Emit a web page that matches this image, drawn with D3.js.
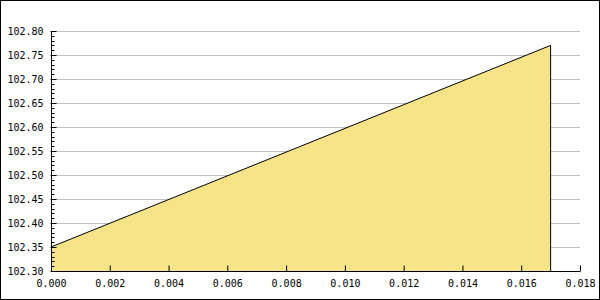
<!DOCTYPE html>
<html>
<head>
<meta charset="utf-8">
<script src="https://cdn.jsdelivr.net/npm/d3@7"></script>
<style>
  body { margin: 0; background: #fff; }
  svg text { font-family: "DejaVu Sans Mono", monospace; font-size: 10px; fill: #000; }
</style>
</head>
<body>
<div id="chart"></div>
<script>
// values
var xVals = [0.000, 0.017]
var yVals = [102.35, 102.77]

var xTicks = [0, 0.002, 0.004, 0.006, 0.008, 0.010, 0.012, 0.014, 0.016, 0.018]
var yTicks = [102.30, 102.35, 102.40, 102.45, 102.50, 102.55, 102.60, 102.65, 102.70, 102.75, 102.80]
var yMinor = d3.range(102.30, 102.805, 0.01)

var data = xVals.map(function(x, i) { return {x: x, y: yVals[i]}; })

var W = 600, H = 300
var margin = {top: 31, right: 20, bottom: 29, left: 51},
  width = W - margin.left - margin.right,
  height = H - margin.top - margin.bottom;

var svg = d3.select("#chart").append("svg")
  .attr("width", W).attr("height", H)

// outer frame
svg.append("rect")
  .attr("x", 0.5).attr("y", 0.5)
  .attr("width", W - 1).attr("height", H - 1)
  .attr("fill", "#fff").attr("stroke", "#000")

var g = svg.append("g")
  .attr("transform", "translate(" + margin.left + "," + margin.top + ")")

var x = d3.scaleLinear().domain([0, 0.018]).range([0, width])
var y = d3.scaleLinear().domain([102.30, 102.80]).range([height, 0])

// gridlines
g.append("g").selectAll("line")
  .data(yTicks.slice(1))
  .enter().append("line")
  .attr("x1", 0).attr("x2", width)
  .attr("y1", function(d) { return Math.round(y(d)) + 0.5; })
  .attr("y2", function(d) { return Math.round(y(d)) + 0.5; })
  .attr("stroke", "#c0c0c0")

// filled area
var area = d3.area()
  .x(function(d) { return x(d.x); })
  .y0(y(102.30))
  .y1(function(d) { return y(d.y); })

g.append("path")
  .datum(data)
  .attr("d", area)
  .attr("fill", "#f7e388")

// outline: top line then drop to the baseline
var last = data[data.length - 1]
var outline = d3.line()
  .x(function(d) { return x(d.x); })
  .y(function(d) { return y(d.y); })
g.append("path")
  .datum(data.concat([{x: last.x, y: 102.30}]))
  .attr("d", outline)
  .attr("fill", "none")
  .attr("stroke", "#000")
  .attr("stroke-width", 1)

// y axis, ticks pointing into the plot
var yAxis = g.append("g").attr("transform", "translate(0.5,0)")
yAxis.call(d3.axisLeft(y).tickValues(yTicks).tickSize(-5).tickPadding(8).tickFormat(d3.format(".2f")))
yAxis.select(".domain").remove()
yAxis.selectAll(".tick line").attr("x1", -1)
yAxis.selectAll(".tick text").attr("x", -8)
yAxis.append("g").selectAll("line")
  .data(yMinor)
  .enter().append("line")
  .attr("x1", 0).attr("x2", 3)
  .attr("y1", function(d) { return Math.round(y(d)) + 0.5; })
  .attr("y2", function(d) { return Math.round(y(d)) + 0.5; })
  .attr("stroke", "#000")
yAxis.append("line")
  .attr("x1", 0).attr("x2", 0)
  .attr("y1", 0).attr("y2", height)
  .attr("stroke", "#000")

// x axis, ticks pointing up
var xAxis = g.append("g").attr("transform", "translate(0," + (height + 0.5) + ")")
xAxis.call(d3.axisBottom(x).tickValues(xTicks).tickSize(-6).tickPadding(9).tickFormat(d3.format(".3f")))
xAxis.select(".domain").attr("d", "M0,0H" + width).attr("stroke", "#000")
xAxis.selectAll(".tick text").attr("y", 8)
</script>
</body>
</html>
